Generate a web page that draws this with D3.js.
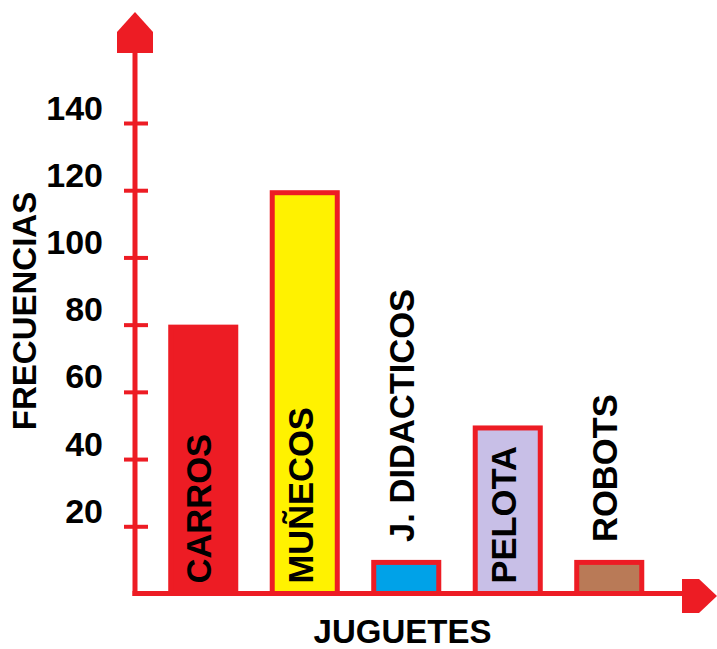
<!DOCTYPE html>
<html lang="es">
<head>
<meta charset="utf-8">
<title>Juguetes</title>
<style>
body { margin: 0; background: #fff; }
text { font-family: "Liberation Sans", Arial, sans-serif; font-weight: bold; fill: #000; }
</style>
</head>
<body>
<div id="chart"></div>
<script src="https://d3js.org/d3.v7.min.js"></script>
<script>
// data
const categories = ["CARROS", "MUÑECOS", "J. DIDACTICOS", "PELOTA", "ROBOTS"];
const values = [80, 120, 10, 50, 10];
const fills = ["#ed1c24", "#fff200", "#00a2e8", "#c8bfe7", "#b97a57"];
const tickValues = [20, 40, 60, 80, 100, 120, 140];

const width = 717, height = 649;
const red = "#ed1c24";
const axisX = 135;

const svg = d3.select("#chart").append("svg")
  .attr("width", width)
  .attr("height", height);

const x = d3.scaleBand()
  .domain(categories)
  .range([152.5, 660])
  .paddingInner(0.31)
  .paddingOuter(0.155);

const y = d3.scaleLinear()
  .domain([0, 140])
  .range([593.5, 123]);

// y ticks and labels
const yAxis = svg.append("g")
  .attr("transform", `translate(${axisX},0)`)
  .call(d3.axisLeft(y).tickValues(tickValues).tickSize(0).tickPadding(0));
yAxis.select(".domain").remove();
yAxis.selectAll(".tick line")
  .attr("x1", -11).attr("x2", 13)
  .attr("stroke", red).attr("stroke-width", 4);
yAxis.selectAll(".tick text")
  .attr("x", -32).attr("dy", -4)
  .attr("text-anchor", "end")
  .style("font-size", "34px")
  .style("font-family", "'Liberation Sans', Arial, sans-serif")
  .style("font-weight", "bold")
  .attr("fill", "#000");

// bars
svg.selectAll("rect.bar")
  .data(categories)
  .enter().append("rect")
  .attr("class", "bar")
  .attr("x", d => x(d) + 2.5)
  .attr("y", (d, i) => y(values[i]) + 2.5)
  .attr("width", x.bandwidth() - 5)
  .attr("height", (d, i) => y(0) - y(values[i]) - 2.5)
  .attr("fill", (d, i) => fills[i])
  .attr("stroke", red)
  .attr("stroke-width", 5);

// bar labels, vertical
svg.selectAll("text.cat")
  .data(categories)
  .enter().append("text")
  .attr("class", "cat")
  .style("font-size", "34.5px")
  .text(d => d)
  .each(function(d, i) {
    const len = this.getComputedTextLength();
    const top = y(values[i]);
    const barH = y(0) - top;
    const start = barH > len + 20 ? y(0) - 10 : top - 18;
    const cx = x(d) + x.bandwidth() / 2 - 4 + 12;
    d3.select(this).attr("transform", `translate(${cx},${start}) rotate(-90)`);
  });

// axis lines
svg.append("line")
  .attr("x1", axisX).attr("x2", axisX)
  .attr("y1", y(0) + 2.5).attr("y2", 50)
  .attr("stroke", red).attr("stroke-width", 5);
svg.append("line")
  .attr("x1", axisX - 2.5).attr("x2", 684)
  .attr("y1", y(0)).attr("y2", y(0))
  .attr("stroke", red).attr("stroke-width", 5);

// arrow heads
svg.append("polygon")
  .attr("points", [[axisX, 12], [axisX + 18, 32], [axisX + 18, 53], [axisX - 18, 53], [axisX - 18, 32]].join(" "))
  .attr("fill", red);
svg.append("polygon")
  .attr("points", [[682, 579], [699, 579], [717, 596], [699, 613], [682, 613]].join(" "))
  .attr("fill", red);

// axis titles
svg.append("text")
  .attr("x", 402.5).attr("y", 643)
  .attr("text-anchor", "middle")
  .style("font-size", "33px")
  .text("JUGUETES");
svg.append("text")
  .attr("transform", "translate(36,311) rotate(-90)")
  .attr("text-anchor", "middle")
  .style("font-size", "33px")
  .text("FRECUENCIAS");
</script>
</body>
</html>
